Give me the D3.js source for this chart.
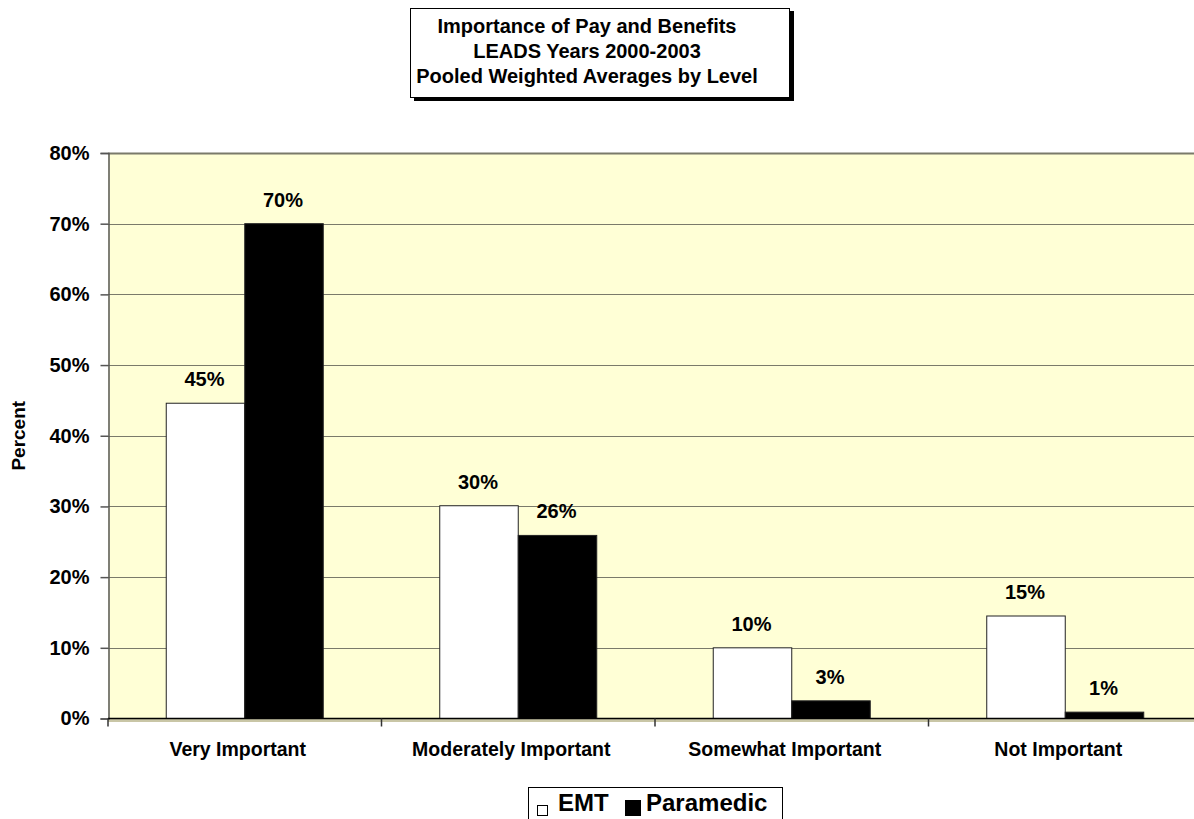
<!DOCTYPE html>
<html><head><meta charset="utf-8">
<script src="https://cdn.jsdelivr.net/npm/d3@7"></script>
<style>body{margin:0;background:#fff}svg{display:block;font-family:"Liberation Sans",Arial,sans-serif;font-weight:bold}</style>
</head><body>
<svg id="c" width="1194" height="819"></svg>
<script>
const categories = ["Very Important", "Moderately Important", "Somewhat Important", "Not Important"];
const seriesNames = ["EMT", "Paramedic"];
const emtValues = [44.6, 30.1, 10.0, 14.5];
const paramedicValues = [70.0, 25.9, 2.5, 0.9];
const emtLabels = ["45%", "30%", "10%", "15%"];
const paramedicLabels = ["70%", "26%", "3%", "1%"];
const yTicks = [0, 10, 20, 30, 40, 50, 60, 70, 80];
const titleLines = ["Importance of Pay and Benefits", "LEADS Years 2000-2003", "Pooled Weighted Averages by Level"];
const seriesColors = ["#ffffff", "#000000"];

const svg = d3.select("#c");
const pLeft = 108, pRight = 1202, pTop = 153, pBottom = 718.5;
const FF = "Liberation Sans, Arial, sans-serif";

const x = d3.scaleBand().domain(categories).range([pLeft, pRight]).padding(0);
const xs = d3.scaleBand().domain(seriesNames).range([0, x.bandwidth()]).paddingInner(0).paddingOuter(0.742);
const y = d3.scaleLinear().domain([0, 80]).range([pBottom, pTop]);

// plot background
svg.append("rect").attr("x", pLeft).attr("y", pTop).attr("width", pRight - pLeft).attr("height", pBottom - pTop).attr("fill", "#ffffd6");
svg.append("rect").attr("x", pLeft).attr("y", pBottom + 0.5).attr("width", pRight - pLeft).attr("height", 3).attr("fill", "#c9c6a6");

// gridlines
svg.append("g").selectAll("line").data(yTicks.filter(d => d > 0)).join("line")
  .attr("x1", pLeft).attr("x2", pRight)
  .attr("y1", d => Math.round(y(d)) + 0.5).attr("y2", d => Math.round(y(d)) + 0.5)
  .attr("stroke", "#7a7a6a").attr("stroke-width", d => d === 80 ? 2 : 1.2);

// bars
const rows = categories.map((c, i) => ({c, vals: [
  {s: "EMT", v: emtValues[i], lab: emtLabels[i]},
  {s: "Paramedic", v: paramedicValues[i], lab: paramedicLabels[i]}]}));
const g = svg.append("g").selectAll("g").data(rows).join("g").attr("transform", d => `translate(${x(d.c)},0)`);
g.selectAll("rect").data(d => d.vals).join("rect")
  .attr("x", d => xs(d.s)).attr("width", xs.bandwidth())
  .attr("y", d => y(d.v)).attr("height", d => y(0) - y(d.v))
  .attr("fill", (d, i) => seriesColors[i]).attr("stroke", "#222").attr("stroke-width", 1);
g.selectAll("text").data(d => d.vals).join("text")
  .attr("x", d => xs(d.s) + xs.bandwidth() / 2 - 1).attr("y", d => y(d.v) - 17)
  .attr("text-anchor", "middle").attr("font-size", 20).text(d => d.lab);

// y axis
const yAxis = d3.axisLeft(y).tickValues(yTicks).tickFormat(d => d + "%").tickSize(8).tickPadding(11);
const ya = svg.append("g").attr("transform", `translate(${pLeft + 0.5},0)`).call(yAxis);
ya.select(".domain").attr("stroke", "#555").attr("stroke-width", 1.5);
ya.selectAll(".tick line").attr("stroke", "#555").attr("stroke-width", 1.5);
ya.selectAll("text").attr("font-size", 20).attr("font-weight", "bold").attr("fill", "#000").attr("font-family", FF);

// x axis
const xAxis = d3.axisBottom(x).tickSize(0).tickPadding(24);
const xa = svg.append("g").attr("transform", `translate(0,${pBottom})`).call(xAxis);
xa.select(".domain").remove();
xa.selectAll("text").attr("font-size", 19.5).attr("font-weight", "bold").attr("fill", "#000").attr("dx", -7).attr("font-family", FF);
svg.append("line").attr("x1", pLeft).attr("x2", pRight).attr("y1", pBottom).attr("y2", pBottom).attr("stroke", "#000").attr("stroke-width", 1.5);
svg.append("g").selectAll("line").data(categories).join("line")
  .attr("x1", d => x(d)).attr("x2", d => x(d)).attr("y1", pBottom).attr("y2", pBottom + 8)
  .attr("stroke", "#333").attr("stroke-width", 1.5);

// y title
svg.append("text").attr("transform", `translate(25,${(pTop + pBottom) / 2}) rotate(-90)`)
  .attr("text-anchor", "middle").attr("font-size", 19).text("Percent");

// title box
svg.append("rect").attr("x", 414).attr("y", 11).attr("width", 380).attr("height", 90).attr("fill", "#000");
svg.append("rect").attr("x", 410.5).attr("y", 8.5).attr("width", 379).attr("height", 89).attr("fill", "#fff").attr("stroke", "#000").attr("stroke-width", 1);
svg.append("g").selectAll("text").data(titleLines).join("text")
  .attr("x", 587).attr("y", (d, i) => 33 + i * 25).attr("text-anchor", "middle").attr("font-size", 20).text(d => d);

// legend
svg.append("rect").attr("x", 528.5).attr("y", 787.5).attr("width", 254).attr("height", 40).attr("fill", "#fff").attr("stroke", "#000").attr("stroke-width", 1);
const leg = [{n: seriesNames[0], c: seriesColors[0], sx: 537, sz: 10, tx: 558},
             {n: seriesNames[1], c: seriesColors[1], sx: 625, sz: 15, tx: 646}];
svg.append("g").selectAll("rect").data(leg).join("rect")
  .attr("x", d => d.sx + 0.5).attr("y", d => 815 - d.sz + 0.5).attr("width", d => d.sz).attr("height", d => d.sz)
  .attr("fill", d => d.c).attr("stroke", "#000").attr("stroke-width", 1);
svg.append("g").selectAll("text").data(leg).join("text")
  .attr("x", d => d.tx).attr("y", 811).attr("font-size", 24).text(d => d.n);
</script>
</body></html>
